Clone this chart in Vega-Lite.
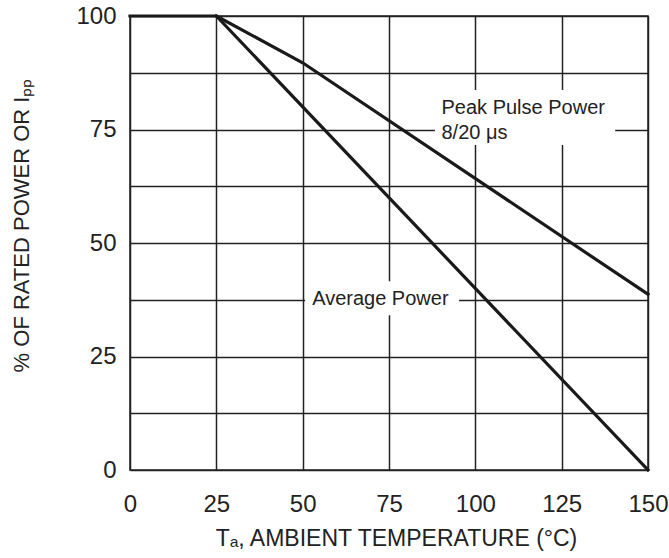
{
  "$schema": "https://vega.github.io/schema/vega-lite/v6.json",
  "width": 518,
  "height": 454,
  "autosize": {"type": "none"},
  "padding": {"left": 130, "top": 16, "right": 21, "bottom": 88},
  "background": "white",
  "config": {
    "font": "Liberation Sans",
    "view": {"stroke": "#222", "strokeWidth": 1.5}
  },
  "datasets": {
    "curves": [
      {"temp": 0, "pct": 100, "series": "Average Power"},
      {"temp": 25, "pct": 100, "series": "Average Power"},
      {"temp": 150, "pct": 0, "series": "Average Power"},
      {"temp": 25, "pct": 100, "series": "Peak Pulse Power"},
      {"temp": 50, "pct": 89.7, "series": "Peak Pulse Power"},
      {"temp": 150, "pct": 38.7, "series": "Peak Pulse Power"}
    ],
    "boxes": [
      {"t1": 50.7, "t2": 95.3, "p1": 34.1, "p2": 41.6},
      {"t1": 88.3, "t2": 140.5, "p1": 71.6, "p2": 83.7}
    ],
    "centerLabels": [
      {"temp": 72.5, "pct": 37.6, "text": "Average Power"}
    ],
    "leftLabels": [
      {"temp": 90.2, "pct": 79.7, "text": "Peak Pulse Power"},
      {"temp": 90.2, "pct": 74.3, "text": "8/20 μs"}
    ]
  },
  "layer": [
    {
      "data": {"name": "curves"},
      "mark": {"type": "line", "color": "#1a1a1a", "strokeWidth": 3.2, "strokeCap": "square"},
      "encoding": {
        "x": {
          "field": "temp", "type": "quantitative",
          "scale": {"domain": [0, 150], "nice": false},
          "axis": {
            "values": [0, 25, 50, 75, 100, 125, 150],
            "grid": true, "gridColor": "#222", "gridWidth": 1.5, "gridOpacity": 1,
            "domain": false, "ticks": false,
            "labelFontSize": 24, "labelColor": "#222", "labelPadding": 22,
            "labelFlush": false,
            "title": "Tₐ, AMBIENT TEMPERATURE (°C)",
            "titleFontSize": 23, "titleFontWeight": "normal", "titleColor": "#222",
            "titlePadding": 11, "titleX": 266
          }
        },
        "y": {
          "field": "pct", "type": "quantitative",
          "scale": {"domain": [0, 100], "nice": false},
          "axis": {
            "values": [0, 12.5, 25, 37.5, 50, 62.5, 75, 87.5, 100],
            "labelExpr": "datum.value % 25 == 0 ? datum.label : ''",
            "grid": true, "gridColor": "#222", "gridWidth": 1.5, "gridOpacity": 1,
            "domain": false, "ticks": false,
            "labelFontSize": 24, "labelColor": "#222", "labelPadding": 14,
            "labelFlush": false,
            "title": "% OF RATED POWER OR Iₚₚ",
            "titleFontSize": 22, "titleFontWeight": "normal", "titleColor": "#222",
            "titlePadding": 42, "titleY": 209
          }
        },
        "detail": {"field": "series"}
      }
    },
    {
      "data": {"name": "boxes"},
      "mark": {"type": "rect", "color": "white", "opacity": 1},
      "encoding": {
        "x": {"field": "t1", "type": "quantitative"},
        "x2": {"field": "t2"},
        "y": {"field": "p1", "type": "quantitative"},
        "y2": {"field": "p2"}
      }
    },
    {
      "data": {"name": "centerLabels"},
      "mark": {"type": "text", "fontSize": 20, "color": "#222", "baseline": "middle", "align": "center"},
      "encoding": {
        "x": {"field": "temp", "type": "quantitative"},
        "y": {"field": "pct", "type": "quantitative"},
        "text": {"field": "text"}
      }
    },
    {
      "data": {"name": "leftLabels"},
      "mark": {"type": "text", "fontSize": 20, "color": "#222", "baseline": "middle", "align": "left"},
      "encoding": {
        "x": {"field": "temp", "type": "quantitative"},
        "y": {"field": "pct", "type": "quantitative"},
        "text": {"field": "text"}
      }
    }
  ]
}
